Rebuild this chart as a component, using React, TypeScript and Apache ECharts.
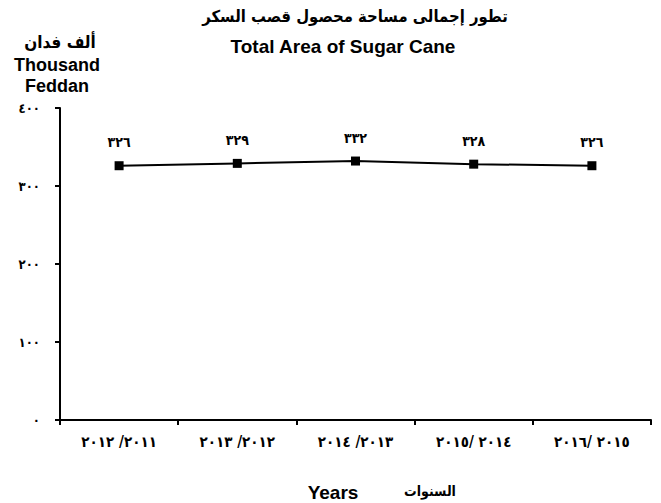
import React, { useEffect, useRef } from "react";
import * as echarts from "echarts";

const LRM = "\u200E";
const categories = [
  "٢٠١٢" + LRM + " /" + LRM + "٢٠١١",
  "٢٠١٣" + LRM + " /" + LRM + "٢٠١٢",
  "٢٠١٤" + LRM + " /" + LRM + "٢٠١٣",
  "٢٠١٥" + LRM + "/ " + LRM + "٢٠١٤",
  "٢٠١٦" + LRM + "/ " + LRM + "٢٠١٥",
];
const areaValues = [326, 329, 332, 328, 326];
const yTicks = [0, 100, 200, 300, 400];

const toArabicDigits = (n: number) =>
  String(n).replace(/[0-9]/g, (d) => "٠١٢٣٤٥٦٧٨٩"[Number(d)]);

const FONT = "'Liberation Sans', Arial, 'DejaVu Sans', sans-serif";
const AR_FONT = "'DejaVu Sans Condensed', 'DejaVu Sans', sans-serif";

export default function App() {
  const ref = useRef<HTMLDivElement>(null);
  useEffect(() => {
    document.body.style.margin = "0";
    if (!ref.current) return;
    const chart = echarts.init(ref.current, null, { renderer: "svg" });
    const txt = (text: string, x: number, y: number, font: string) => ({
      type: "text",
      x,
      y,
      style: { text, font, fill: "#000", align: "center", verticalAlign: "middle" },
    });
    chart.setOption({
      animation: false,
      backgroundColor: "#ffffff",
      textStyle: { fontFamily: FONT },
      grid: { left: 60, right: 10, top: 108, bottom: 83 },
      graphic: [
        txt("تطور إجمالى مساحة محصول قصب السكر", 355, 16, "bold 16.5px " + AR_FONT),
        txt("Total Area of Sugar Cane", 343, 46, "bold 19px " + FONT),
        txt("ألف فدان", 60, 42, "bold 17px " + AR_FONT),
        txt("Thousand", 57, 65, "bold 18px " + FONT),
        txt("Feddan", 57, 86, "bold 18px " + FONT),
        txt("Years", 333, 492, "bold 19px " + FONT),
        txt("السنوات", 430, 491, "bold 14px " + AR_FONT),
      ],
      xAxis: {
        type: "category",
        data: categories,
        boundaryGap: true,
        axisLine: { show: true, lineStyle: { color: "#000", width: 2 } },
        axisTick: {
          show: true,
          alignWithLabel: false,
          length: 5,
          lineStyle: { color: "#000", width: 2 },
        },
        axisLabel: {
          color: "#000",
          fontSize: 15,
          fontWeight: "bold",
          margin: 14,
          fontFamily: AR_FONT,
        },
      },
      yAxis: {
        type: "value",
        min: yTicks[0],
        max: yTicks[yTicks.length - 1],
        interval: 100,
        splitLine: { show: false },
        axisLine: { show: true, lineStyle: { color: "#000", width: 2 } },
        axisTick: { show: true, length: 5, lineStyle: { color: "#000", width: 2 } },
        axisLabel: {
          color: "#000",
          fontSize: 13,
          fontWeight: "bold",
          margin: 20,
          fontFamily: AR_FONT,
          formatter: (v: number) => toArabicDigits(v),
        },
      },
      series: [
        {
          type: "line",
          data: areaValues,
          symbol: "rect",
          symbolSize: 9,
          lineStyle: { color: "#000", width: 2 },
          itemStyle: { color: "#000" },
          label: {
            show: true,
            position: "top",
            distance: 12,
            color: "#000",
            fontSize: 14,
            fontWeight: "bold",
            fontFamily: AR_FONT,
            formatter: (p: any) => toArabicDigits(p.value),
          },
        },
      ],
    });
    return () => chart.dispose();
  }, []);
  return <div ref={ref} style={{ width: 661, height: 503 }} />;
}
